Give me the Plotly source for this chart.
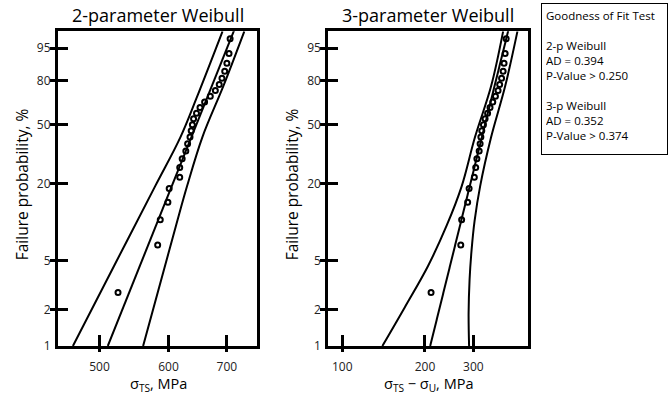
import numpy as np
import plotly.graph_objects as go

# ---------------- data ----------------
rank_pct = [2.76, 6.69, 10.63, 14.57, 18.50, 22.44, 26.38, 30.31, 34.25, 38.19,
            42.13, 46.06, 50.00, 53.94, 57.87, 61.81, 65.75, 69.69, 73.62, 77.56,
            81.50, 85.43, 89.37, 93.31, 97.24]
sigma_ts = [525, 583, 587, 599, 601, 618, 618, 622, 628, 631,
            635, 637, 639, 641, 646, 652, 660, 670, 679, 686,
            691, 696, 700, 704, 706]
sigma_ts_minus_u = [210.5, 270, 272, 286, 289.5, 302.5, 306, 309, 315, 317.5,
                    319.5, 322, 326.5, 331, 338, 345, 353, 361, 369, 374,
                    380, 385, 388, 391.5, 395]

# 2-parameter fit line and confidence bounds
fit2_pct = [1, 99]
fit2_x = [511, 717]
lo2_pct = [1, 4.54, 19.2, 42.0, 68.4, 98.4]
lo2_x = [466, 519.5, 579, 619, 646, 692]
hi2_pct = [1, 9.59, 19.2, 42.0, 77.0, 98.4]
hi2_x = [561, 612, 630, 656, 694, 733]

# 3-parameter fit line and confidence bounds
fit3_pct = [1, 99]
fit3_x = [209, 406]
lo3_pct = [1, 2.09, 4.52, 9.59, 19.2, 42.0, 76.4, 98.4]
lo3_x = [140, 169, 205, 240, 272, 304, 348, 385]
hi3_pct = [1, 1.85, 3.53, 6.12, 10.48, 19.2, 42.0, 76.4, 98.4]
hi3_x = [289.5, 288.3, 290.7, 295.6, 303.2, 317.5, 348, 391.5, 434]

prob_ticks = [1, 2, 5, 20, 50, 80, 95]
x2_ticks = [500, 600, 700]
x3_ticks = [100, 200, 300]

gof_lines = ["Goodness of Fit Test", "", "2-p Weibull", "AD = 0.394", "P-Value > 0.250",
             "", "3-p Weibull", "AD = 0.352", "P-Value > 0.374"]


def wb(p):
    """Weibull probability-paper transform of a percentage."""
    return np.log(-np.log(1 - np.asarray(p, dtype=float) / 100.0))


FONT = "Open Sans"
fig = go.Figure()

line_style = dict(color="black", width=2)
marker_style = dict(symbol="circle-open", size=5, color="black", line=dict(width=2, color="black"))

# left panel
fig.add_trace(go.Scatter(x=lo2_x, y=wb(lo2_pct), mode="lines", line=line_style, line_shape="spline",
                         xaxis="x", yaxis="y", showlegend=False))
fig.add_trace(go.Scatter(x=hi2_x, y=wb(hi2_pct), mode="lines", line=line_style, line_shape="spline",
                         xaxis="x", yaxis="y", showlegend=False))
fig.add_trace(go.Scatter(x=fit2_x, y=wb(fit2_pct), mode="lines", line=line_style,
                         xaxis="x", yaxis="y", showlegend=False))
fig.add_trace(go.Scatter(x=sigma_ts, y=wb(rank_pct), mode="markers", marker=marker_style,
                         xaxis="x", yaxis="y", showlegend=False))

# right panel
fig.add_trace(go.Scatter(x=lo3_x, y=wb(lo3_pct), mode="lines", line=line_style, line_shape="spline",
                         xaxis="x2", yaxis="y2", showlegend=False))
fig.add_trace(go.Scatter(x=hi3_x, y=wb(hi3_pct), mode="lines", line=line_style, line_shape="spline",
                         xaxis="x2", yaxis="y2", showlegend=False))
fig.add_trace(go.Scatter(x=fit3_x, y=wb(fit3_pct), mode="lines", line=line_style,
                         xaxis="x2", yaxis="y2", showlegend=False))
fig.add_trace(go.Scatter(x=sigma_ts_minus_u, y=wb(rank_pct), mode="markers", marker=marker_style,
                         xaxis="x2", yaxis="y2", showlegend=False))

W, H = 672, 403
ydom = [(H - 353) / H, (H - 32) / H]
yrange = [float(wb(1)), float(wb(98.4))]
tickfont = dict(family=FONT, size=12, color="#222")


def xaxis_cfg(dom, rng, ticks):
    return dict(type="log", domain=dom, range=rng, tickmode="array", tickvals=ticks,
                ticktext=[str(t) for t in ticks], ticks="inside", ticklen=11, tickwidth=3,
                tickcolor="black", showline=True, linewidth=3, linecolor="black", mirror=True,
                showgrid=False, zeroline=False, tickfont=tickfont, ticklabelstandoff=8,
                minor=dict(tickmode="array", tickvals=ticks, ticks="outside", ticklen=3,
                           tickwidth=3, tickcolor="black", showgrid=False))


def yaxis_cfg(anchor):
    tv = [float(v) for v in wb(prob_ticks)]
    return dict(domain=ydom, range=yrange, anchor=anchor, tickmode="array", tickvals=tv,
                ticktext=[str(t) for t in prob_ticks], ticks="inside", ticklen=10, tickwidth=3,
                tickcolor="black", showline=True, linewidth=3, linecolor="black", mirror=True,
                showgrid=False, zeroline=False, tickfont=tickfont, ticklabelstandoff=2,
                minor=dict(tickmode="array", tickvals=tv, ticks="outside", ticklen=5,
                           tickwidth=3, tickcolor="black", showgrid=False))


x2dom = [58 / W, 257 / W]
x3dom = [328.3 / W, 527.7 / W]

fig.update_layout(
    width=W, height=H,
    margin=dict(l=0, r=0, t=0, b=0),
    paper_bgcolor="white", plot_bgcolor="white",
    font=dict(family=FONT, color="black"),
    xaxis=xaxis_cfg(x2dom, [np.log10(448), np.log10(758)], x2_ticks) | dict(anchor="y"),
    yaxis=yaxis_cfg("x"),
    xaxis2=xaxis_cfg(x3dom, [np.log10(89), np.log10(473)], x3_ticks) | dict(anchor="y2"),
    yaxis2=yaxis_cfg("x2"),
)

ann = []
# panel titles
ann.append(dict(text="2-parameter Weibull", x=158 / W, y=1 - 15 / H, xref="paper", yref="paper",
                showarrow=False, font=dict(size=18, family=FONT, color="black"),
                xanchor="center", yanchor="middle"))
ann.append(dict(text="3-parameter Weibull", x=428 / W, y=1 - 15 / H, xref="paper", yref="paper",
                showarrow=False, font=dict(size=18, family=FONT, color="black"),
                xanchor="center", yanchor="middle"))
# y titles
for xc in (22, 292):
    ann.append(dict(text="Failure probability, %", x=xc / W, y=1 - 188 / H, xref="paper", yref="paper",
                    showarrow=False, textangle=-90, font=dict(size=15.5, family=FONT, color="black"),
                    xanchor="center", yanchor="middle"))
# x titles
ann.append(dict(text="σ<sub>TS</sub>, MPa", x=158 / W, y=1 - 392 / H, xref="paper", yref="paper",
                showarrow=False, font=dict(size=14.5, family=FONT, color="black"),
                xanchor="center", yanchor="middle"))
ann.append(dict(text="σ<sub>TS</sub> − σ<sub>U</sub>, MPa", x=428.5 / W, y=1 - 392 / H, xref="paper",
                yref="paper", showarrow=False, font=dict(size=14.5, family=FONT, color="black"),
                xanchor="center", yanchor="middle"))
# goodness of fit box
ann.append(dict(text="<br>".join(l if l else " " for l in gof_lines), x=540.5 / W, y=1 - 2.7 / H,
                xref="paper", yref="paper", showarrow=False, xanchor="left", yanchor="top",
                align="left", valign="top", width=117, height=142, borderpad=4, borderwidth=1,
                bordercolor="black", bgcolor="white",
                font=dict(size=11.5, family=FONT, color="black")))
fig.update_layout(annotations=ann)

fig.write_html("out.html", config={"displayModeBar": False},
               post_script="document.body.style.margin='0';")
